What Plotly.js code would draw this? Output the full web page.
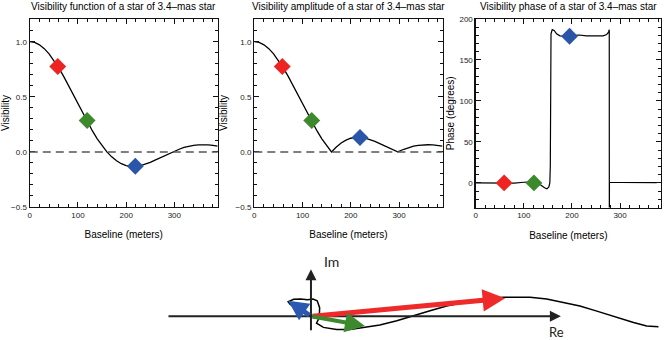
<!DOCTYPE html>
<html>
<head>
<meta charset="utf-8">
<script src="https://cdn.plot.ly/plotly-3.0.1.min.js"></script>
<style>html,body{margin:0;padding:0;background:#fff;}#chart{width:664px;height:340px;}</style>
</head>
<body>
<div id="chart"></div>
<script>
// ---- data ----
const panelTitles = [
  "Visibility function of a star of 3.4\u2013mas star",
  "Visibility amplitude of a star of 3.4\u2013mas star",
  "Visibility phase of a star of 3.4\u2013mas star"
];
const baseline = [0,10,20,30,40,50,60,70,80,90,100,110,120,130,140,150,160,170,180,190,200,210,220,230,240,250,260,270,280,290,297,310,320,330,340,350,360,370,380,390];
const visibility = [1.0,0.993,0.972,0.937,0.890,0.831,0.763,0.688,0.606,0.522,0.435,0.350,0.267,0.190,0.119,0.055,0.0,-0.045,-0.081,-0.107,-0.124,-0.131,-0.131,-0.124,-0.111,-0.095,-0.075,-0.054,-0.033,-0.012,0.0,0.024,0.040,0.052,0.060,0.064,0.065,0.063,0.059,0.053];
const amplitude = [1.0,0.993,0.972,0.937,0.890,0.831,0.763,0.688,0.606,0.522,0.435,0.350,0.267,0.190,0.119,0.055,0.0,0.045,0.081,0.107,0.124,0.131,0.131,0.124,0.111,0.095,0.075,0.054,0.033,0.012,0.0,0.024,0.040,0.052,0.060,0.064,0.065,0.063,0.059,0.053];
const markerB = [58, 119, 219];
const markerVis = [0.775, 0.285, -0.13];
const markerAmp = [0.775, 0.285, 0.13];
const phaseMarkerB = [59, 121, 195];
const phaseMarkerDeg = [0, 0, 179];
const markerColors = ["#ee2424", "#3d8a2e", "#2a55a8"];
const phaseB =   [0, 20, 40, 60, 80, 100, 115, 125, 135, 143, 148, 152, 154, 155, 155.5, 156.5, 159, 163, 168, 175, 185, 195, 205, 215, 230, 250, 265, 272, 276, 277.5, 277.7, 277.9, 300, 340, 376];
const phaseDeg = [0, 0, -0.3, -0.8, -0.3, 0.8, 1.2, 0.5, -2.5, -6, -7.3, -5, 0, 20, 150, 182, 187, 186, 182, 179.5, 179, 179.5, 180.5, 180.5, 179.5, 179.3, 179.5, 181, 184, 187, -120, 0.5, 0.5, 0.3, 0.3];
// complex-plane sketch (Re, Im)
const curveRe = [1.004,0.970,0.932,0.874,0.826,0.777,0.729,0.681,0.633,0.585,0.556,0.488,0.440,0.392,0.344,0.296,0.248,0.199,0.161,0.113,0.074,0.036,0.016,0.024,0.025,0.018,0.006,-0.010,-0.030,-0.050,-0.066,-0.060,-0.040,-0.018,0.0];
const curveIm = [-0.030,-0.028,-0.018,-0.001,0.015,0.030,0.041,0.050,0.055,0.056,0.055,0.049,0.039,0.030,0.016,0.001,-0.013,-0.025,-0.030,-0.038,-0.038,-0.032,-0.020,-0.004,0.025,0.045,0.050,0.048,0.050,0.049,0.042,0.034,0.022,0.010,0.0];
const phasorRe = [0.561, 0.156, -0.066];
const phasorIm = [0.052, -0.028, 0.045];
const phasorColors = ["#ee2a2a", "#3d8a2e", "#2b58b0"];
const axisLabels = ["Re", "Im"];

const FONT = "Liberation Sans, Arial, Helvetica, sans-serif";
const W = 664, H = 340;
const px = v => v / W;
const py = v => 1 - v / H;

function axisStyle(extra) {
  return Object.assign({
    showline: true, linecolor: "#111", linewidth: 1.3, mirror: "allticks",
    ticks: "inside", ticklen: 5, tickwidth: 1, tickcolor: "#111",
    showgrid: false, zeroline: false,
    tickfont: {family: FONT, size: 8, color: "#222"}
  }, extra);
}
const titleFont = {family: FONT, size: 10, color: "#000"};

const traces = [
  {x: baseline, y: visibility, xaxis: "x", yaxis: "y", mode: "lines", line: {color: "#000", width: 1.3}},
  {x: markerB, y: markerVis, xaxis: "x", yaxis: "y", mode: "markers", marker: {symbol: "diamond", size: 13, color: markerColors}},
  {x: baseline, y: amplitude, xaxis: "x2", yaxis: "y2", mode: "lines", line: {color: "#000", width: 1.3}},
  {x: markerB, y: markerAmp, xaxis: "x2", yaxis: "y2", mode: "markers", marker: {symbol: "diamond", size: 13, color: markerColors}},
  {x: phaseB, y: phaseDeg, xaxis: "x3", yaxis: "y3", mode: "lines", line: {color: "#000", width: 1.2}},
  {x: phaseMarkerB, y: phaseMarkerDeg, xaxis: "x3", yaxis: "y3", mode: "markers", marker: {symbol: "diamond", size: 13, color: markerColors}},
  {x: curveRe, y: curveIm, xaxis: "x4", yaxis: "y4", mode: "lines", line: {color: "#000", width: 1.5}}
];

const xMinor = {ticks: "inside", ticklen: 3, dtick: 20, tickcolor: "#111"};
const visMinor = {ticks: "inside", ticklen: 3, dtick: 0.1, tickcolor: "#111"};
const layout = {
  width: W, height: H, margin: {l: 0, r: 0, t: 0, b: 0},
  paper_bgcolor: "#fff", plot_bgcolor: "#fff", showlegend: false,
  font: {family: FONT},
  xaxis: axisStyle({anchor: "y", domain: [px(29.8), px(217.7)], range: [0, 390], dtick: 100, minor: xMinor, title: {text: "Baseline (meters)", font: titleFont, standoff: 12}}),
  yaxis: axisStyle({anchor: "x", domain: [py(207), py(19)], range: [-0.5, 1.206], dtick: 0.5, tickformat: ".1f", minor: visMinor, title: {text: "Visibility", font: titleFont, standoff: 6}}),
  xaxis2: axisStyle({anchor: "y2", domain: [px(254.3), px(442.5)], range: [0, 390], dtick: 100, minor: xMinor, title: {text: "Baseline (meters)", font: titleFont, standoff: 12}}),
  yaxis2: axisStyle({anchor: "x2", domain: [py(207), py(19)], range: [-0.5, 1.206], dtick: 0.5, tickformat: ".1f", minor: visMinor, title: {text: "Visibility", font: titleFont, standoff: 6}}),
  xaxis3: axisStyle({anchor: "y3", domain: [px(475.7), px(661)], range: [0, 385], dtick: 100, minor: xMinor, title: {text: "Baseline (meters)", font: titleFont, standoff: 12}}),
  yaxis3: axisStyle({anchor: "x3", domain: [py(207.5), py(19)], range: [-30, 200], dtick: 50, minor: {ticks: "inside", ticklen: 3, dtick: 10, tickcolor: "#111"}, title: {text: "Phase (degrees)", font: titleFont, standoff: 3}}),
  xaxis4: {anchor: "y4", domain: [px(140), 1], range: [-0.494, 1.020], visible: false, fixedrange: true},
  yaxis4: {anchor: "x4", domain: [0, py(250)], range: [-0.0685, 0.1916], visible: false, fixedrange: true},
  shapes: [
    {type: "line", xref: "x domain", yref: "y", x0: 0, x1: 1, y0: 0, y1: 0, line: {color: "#555", width: 1.5, dash: "8px,5px"}},
    {type: "line", xref: "x2 domain", yref: "y2", x0: 0, x1: 1, y0: 0, y1: 0, line: {color: "#555", width: 1.5, dash: "8px,5px"}}
  ],
  annotations: []
};

const titleCenters = [(29.8 + 217.7) / 2, (254.3 + 442.5) / 2, (475.7 + 661) / 2];
panelTitles.forEach((t, i) => {
  layout.annotations.push({text: t, xref: "paper", yref: "paper", x: px(titleCenters[i]), y: py(6.5), xanchor: "center", yanchor: "middle", showarrow: false, font: titleFont});
});

// complex plane axes
layout.annotations.push({xref: "x4", yref: "y4", axref: "x4", ayref: "y4", x: 0.722, y: 0, ax: -0.416, ay: 0, text: "", showarrow: true, arrowhead: 2, arrowsize: 1.1, arrowwidth: 2, arrowcolor: "#222", standoff: 0});
layout.annotations.push({xref: "x4", yref: "y4", axref: "x4", ayref: "y4", x: 0, y: 0.136, ax: 0, ay: -0.0445, text: "", showarrow: true, arrowhead: 2, arrowsize: 1.1, arrowwidth: 2, arrowcolor: "#222", standoff: 0});
layout.annotations.push({xref: "x4", yref: "y4", x: 0.71, y: -0.046, text: axisLabels[0], showarrow: false, xanchor: "center", yanchor: "middle", borderpad: 0, font: {family: "Lato, Open Sans, sans-serif", size: 13, color: "#222"}});
layout.annotations.push({xref: "x4", yref: "y4", x: 0.060, y: 0.158, text: axisLabels[1], showarrow: false, xanchor: "center", yanchor: "middle", font: {family: "Lato, Open Sans, sans-serif", size: 14, color: "#222"}});

// phasors
const headSizes = [0.9, 1.0, 0.8];
phasorRe.forEach((re, i) => {
  layout.annotations.push({xref: "x4", yref: "y4", axref: "x4", ayref: "y4", x: re, y: phasorIm[i], ax: 0, ay: 0, text: "", showarrow: true, arrowhead: 2, arrowsize: headSizes[i], arrowwidth: i === 1 ? 4 : 5, arrowcolor: phasorColors[i], standoff: 0});
});

Plotly.newPlot("chart", traces, layout, {staticPlot: true, displayModeBar: false});
</script>
</body>
</html>
